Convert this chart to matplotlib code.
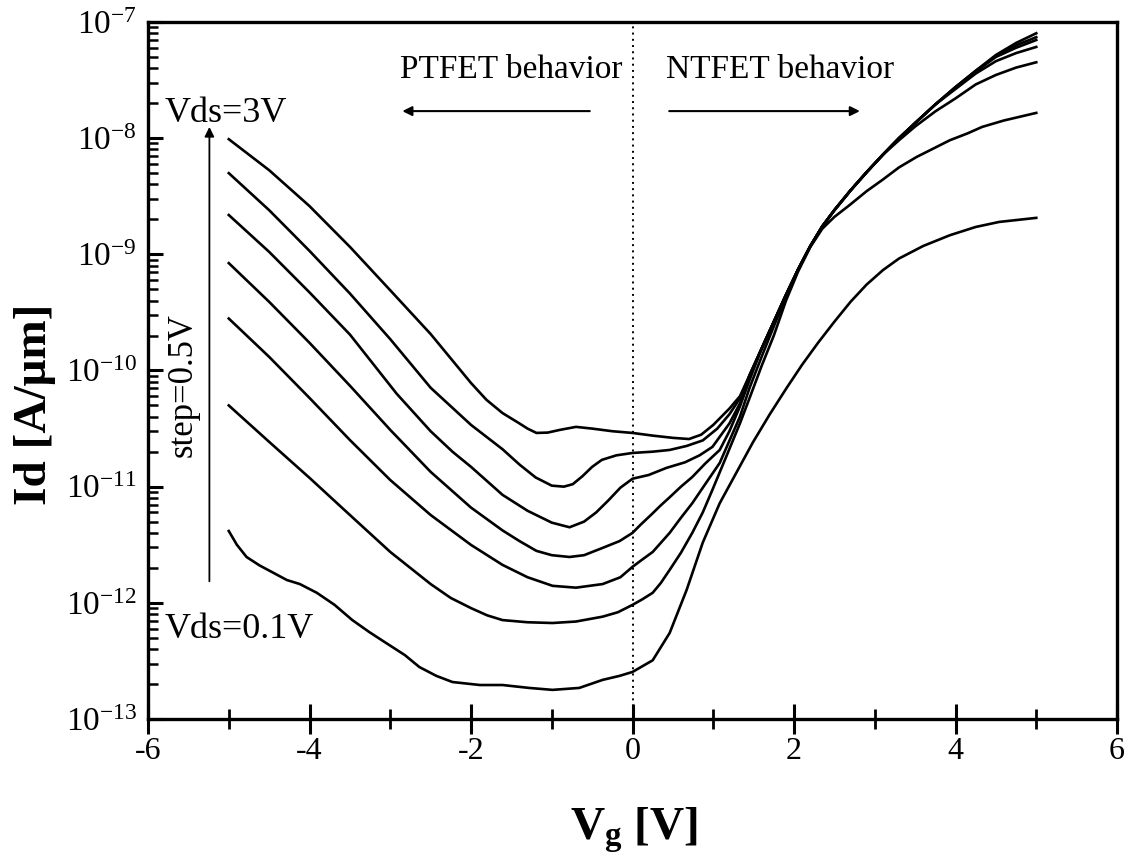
import numpy as np
import matplotlib
matplotlib.use("Agg")
import matplotlib.pyplot as plt
from matplotlib.ticker import LogLocator, FuncFormatter, MultipleLocator, NullFormatter

plt.rcParams['font.family'] = ['Liberation Serif', 'DejaVu Serif']
plt.rcParams['mathtext.fontset'] = 'custom'
plt.rcParams['mathtext.rm'] = 'Liberation Serif'
plt.rcParams['mathtext.it'] = 'Liberation Serif:italic'
plt.rcParams['mathtext.bf'] = 'Liberation Serif:bold'

# Id(Vg) curves, one per Vds (0.1 V ... 3 V)
vg_3v0 = [-5.0, -4.5, -4.0, -3.5, -3.0, -2.5, -2.0, -1.81, -1.61, -1.4, -1.3, -1.19, -1.05,
          -0.9, -0.7, -0.5, -0.25, 0.0, 0.25, 0.5, 0.7, 0.85, 1.0, 1.2, 1.33, 1.45, 1.60,
          1.75, 1.90, 2.05, 2.20, 2.35, 2.50, 2.70, 2.90, 3.10, 3.30, 3.50, 3.75, 4.00,
          4.25, 4.50, 4.75, 5.0]
id_3v0 = [9.8e-9, 5.3e-9, 2.6e-9, 1.16e-9, 4.9e-10, 2.06e-10, 7.8e-11, 5.6e-11, 4.3e-11,
          3.5e-11, 3.16e-11, 2.9e-11, 2.92e-11, 3.08e-11, 3.27e-11, 3.16e-11, 3.0e-11, 2.9e-11,
          2.75e-11, 2.63e-11, 2.57e-11, 2.8e-11, 3.4e-11, 4.7e-11, 6.0e-11, 9.1e-11, 1.55e-10,
          2.63e-10, 4.47e-10, 7.4e-10, 1.17e-9, 1.74e-9, 2.4e-9, 3.55e-9, 5.1e-9, 7.2e-9,
          1.0e-8, 1.35e-8, 1.95e-8, 2.75e-8, 3.8e-8, 5.2e-8, 6.6e-8, 8.0e-8]

vg_2v5 = [-5.0, -4.5, -4.0, -3.5, -3.0, -2.5, -2.0, -1.61, -1.4, -1.2, -1.0, -0.85, -0.74,
          -0.62, -0.5, -0.38, -0.2, 0.0, 0.25, 0.46, 0.67, 0.87, 1.05, 1.2, 1.33, 1.45, 1.60,
          1.75, 1.90, 2.05, 2.20, 2.35, 2.50, 2.70, 2.90, 3.10, 3.30, 3.50, 3.75, 4.00,
          4.25, 4.50, 4.75, 5.0]
id_2v5 = [5.0e-9, 2.4e-9, 1.07e-9, 4.6e-10, 1.86e-10, 7.1e-11, 3.4e-11, 2.1e-11, 1.55e-11,
          1.2e-11, 1.02e-11, 1.0e-11, 1.05e-11, 1.23e-11, 1.48e-11, 1.7e-11, 1.86e-11, 1.95e-11,
          2.0e-11, 2.07e-11, 2.24e-11, 2.5e-11, 3.16e-11, 4.2e-11, 5.75e-11, 9.1e-11, 1.55e-10,
          2.63e-10, 4.47e-10, 7.4e-10, 1.17e-9, 1.74e-9, 2.4e-9, 3.55e-9, 5.1e-9, 7.2e-9,
          1.0e-8, 1.35e-8, 1.95e-8, 2.75e-8, 3.8e-8, 5.1e-8, 6.3e-8, 7.4e-8]

vg_2v0 = [-5.0, -4.5, -4.0, -3.5, -2.92, -2.5, -2.23, -2.0, -1.61, -1.3, -1.0, -0.78, -0.6,
          -0.45, -0.3, -0.15, 0.0, 0.2, 0.42, 0.65, 0.83, 0.99, 1.2, 1.33, 1.45, 1.60, 1.75,
          1.90, 2.05, 2.20, 2.35, 2.50, 2.70, 2.90, 3.10, 3.30, 3.50, 3.75, 4.00, 4.25, 4.50,
          4.75, 5.0]
id_2v0 = [2.18e-9, 1.05e-9, 4.7e-10, 2.04e-10, 6.3e-11, 3.0e-11, 2.0e-11, 1.48e-11, 8.5e-12,
          6.2e-12, 4.9e-12, 4.47e-12, 5.0e-12, 6.0e-12, 7.6e-12, 9.8e-12, 1.17e-11, 1.26e-11,
          1.45e-11, 1.62e-11, 1.86e-11, 2.2e-11, 3.5e-11, 5.2e-11, 9.1e-11, 1.55e-10, 2.63e-10,
          4.47e-10, 7.4e-10, 1.17e-9, 1.74e-9, 2.4e-9, 3.55e-9, 5.1e-9, 7.2e-9, 1.0e-8,
          1.35e-8, 1.95e-8, 2.75e-8, 3.75e-8, 5.0e-8, 6.0e-8, 7.0e-8]

vg_1v5 = [-5.0, -4.5, -4.0, -3.5, -3.0, -2.5, -2.0, -1.61, -1.4, -1.19, -1.0, -0.78, -0.6,
          -0.37, -0.16, 0.0, 0.1, 0.25, 0.35, 0.46, 0.6, 0.74, 0.9, 1.08, 1.2, 1.33, 1.45,
          1.60, 1.75, 1.90, 2.05, 2.20, 2.35, 2.50, 2.70, 2.90, 3.10, 3.30, 3.50, 3.75, 4.00,
          4.25, 4.50, 4.75, 5.0]
id_1v5 = [8.4e-10, 3.9e-10, 1.73e-10, 7.4e-11, 3.08e-11, 1.34e-11, 6.6e-12, 4.2e-12, 3.4e-12,
          2.8e-12, 2.57e-12, 2.48e-12, 2.57e-12, 2.97e-12, 3.4e-12, 4.0e-12, 4.7e-12, 5.9e-12,
          6.9e-12, 8.1e-12, 1.0e-11, 1.21e-11, 1.58e-11, 2.07e-11, 3.0e-11, 4.9e-11, 8.3e-11,
          1.55e-10, 2.63e-10, 4.47e-10, 7.4e-10, 1.17e-9, 1.74e-9, 2.4e-9, 3.55e-9, 5.1e-9,
          7.2e-9, 1.0e-8, 1.35e-8, 1.95e-8, 2.65e-8, 3.6e-8, 4.6e-8, 5.4e-8, 6.1e-8]

vg_1v0 = [-5.0, -4.5, -4.0, -3.5, -3.0, -2.5, -2.0, -1.61, -1.3, -0.99, -0.7, -0.37, -0.15,
          0.0, 0.1, 0.25, 0.46, 0.6, 0.74, 0.9, 1.08, 1.33, 1.45, 1.60, 1.75, 1.90, 2.05,
          2.20, 2.35, 2.50, 2.70, 2.90, 3.10, 3.30, 3.50, 3.75, 4.00, 4.25, 4.50, 4.75, 5.0]
id_1v0 = [2.8e-10, 1.31e-10, 5.8e-11, 2.52e-11, 1.14e-11, 5.7e-12, 3.15e-12, 2.12e-12, 1.66e-12,
          1.4e-12, 1.35e-12, 1.45e-12, 1.66e-12, 2.04e-12, 2.3e-12, 2.74e-12, 4.0e-12, 5.4e-12,
          7.2e-12, 1.05e-11, 1.6e-11, 4.0e-11, 7.1e-11, 1.32e-10, 2.4e-10, 4.3e-10, 7.4e-10,
          1.17e-9, 1.74e-9, 2.4e-9, 3.55e-9, 5.1e-9, 7.2e-9, 9.6e-9, 1.26e-8, 1.7e-8, 2.2e-8,
          2.9e-8, 3.5e-8, 4.05e-8, 4.5e-8]

vg_0v5 = [-5.0, -4.5, -4.0, -3.5, -3.0, -2.5, -2.25, -2.0, -1.8, -1.61, -1.3, -0.99, -0.7,
          -0.37, -0.18, 0.0, 0.12, 0.25, 0.35, 0.46, 0.6, 0.74, 0.87, 0.99, 1.15, 1.33, 1.45,
          1.60, 1.75, 1.90, 2.05, 2.20, 2.35, 2.50, 2.69, 2.90, 3.10, 3.30, 3.52, 3.75, 3.93,
          4.15, 4.33, 4.60, 5.0]
id_0v5 = [5.0e-11, 2.43e-11, 1.19e-11, 5.7e-12, 2.74e-12, 1.45e-12, 1.1e-12, 9.0e-13, 7.8e-13,
          7.1e-13, 6.8e-13, 6.7e-13, 6.9e-13, 7.6e-13, 8.3e-13, 9.6e-13, 1.07e-12, 1.22e-12,
          1.48e-12, 1.92e-12, 2.7e-12, 4.0e-12, 6.0e-12, 9.4e-12, 1.74e-11, 3.5e-11, 5.8e-11,
          1.1e-10, 2.0e-10, 3.98e-10, 7.1e-10, 1.15e-9, 1.66e-9, 2.1e-9, 2.66e-9, 3.5e-9,
          4.4e-9, 5.6e-9, 6.9e-9, 8.3e-9, 9.6e-9, 1.1e-8, 1.25e-8, 1.42e-8, 1.65e-8]

vg_0v1 = [-5.0, -4.9, -4.78, -4.62, -4.28, -4.12, -3.91, -3.69, -3.47, -3.26, -3.05, -2.82,
          -2.64, -2.43, -2.23, -1.89, -1.61, -1.28, -0.99, -0.66, -0.37, -0.16, 0.0, 0.25,
          0.46, 0.67, 0.87, 1.08, 1.49, 1.7, 1.91, 2.1, 2.3, 2.5, 2.7, 2.9, 3.1, 3.3, 3.6,
          3.93, 4.25, 4.54, 5.0]
id_0v1 = [4.15e-12, 3.16e-12, 2.48e-12, 2.1e-12, 1.57e-12, 1.45e-12, 1.22e-12, 9.6e-13, 7.1e-13,
          5.6e-13, 4.5e-13, 3.55e-13, 2.8e-13, 2.35e-13, 2.08e-13, 1.96e-13, 1.96e-13, 1.85e-13,
          1.78e-13, 1.85e-13, 2.17e-13, 2.35e-13, 2.54e-13, 3.2e-13, 5.5e-13, 1.29e-12, 3.3e-12,
          7.2e-12, 2.4e-11, 4.2e-11, 7.1e-11, 1.12e-10, 1.74e-10, 2.63e-10, 3.9e-10, 5.5e-10,
          7.3e-10, 9.2e-10, 1.18e-9, 1.46e-9, 1.72e-9, 1.9e-9, 2.06e-9]

curves = [(vg_0v1, id_0v1), (vg_0v5, id_0v5), (vg_1v0, id_1v0), (vg_1v5, id_1v5),
          (vg_2v0, id_2v0), (vg_2v5, id_2v5), (vg_3v0, id_3v0)]

fig = plt.figure(figsize=(11.3, 8.63), dpi=100)
ax = fig.add_axes([0.131, 0.1669, 0.8575, 0.8076])

for vg, idv in curves:
    ax.plot(vg, idv, color='black', lw=1.9, solid_joinstyle='round')

ax.set_yscale('log')
ax.set_xlim(-6, 6)
ax.set_ylim(1e-13, 1e-7)

ax.axvline(0, color='black', lw=1.4, ls=(0, (1, 2.2)))

for s in ax.spines.values():
    s.set_linewidth(2.4)

ax.xaxis.set_major_locator(MultipleLocator(2))
ax.xaxis.set_minor_locator(MultipleLocator(1))
ax.xaxis.set_major_formatter(FuncFormatter(lambda v, _: '%d' % v))
ax.yaxis.set_major_locator(LogLocator(base=10, numticks=10))
ax.yaxis.set_minor_locator(LogLocator(base=10, subs=np.arange(2, 10), numticks=10))
ax.yaxis.set_minor_formatter(NullFormatter())
ax.yaxis.set_major_formatter(FuncFormatter(
    lambda v, _: r'$\mathregular{10^{%d}}$' % round(np.log10(v))))

ax.tick_params(axis='x', which='major', direction='inout', length=22, width=2.2,
               labelsize=23, pad=2, top=False)
ax.tick_params(axis='x', which='minor', direction='inout', length=14, width=2.0, top=False)
ax.tick_params(axis='y', which='major', direction='in', length=11, width=2.2,
               labelsize=24, pad=8, right=False)
ax.tick_params(axis='y', which='minor', direction='in', length=7, width=1.8, right=False)

# annotations
ax.annotate('', xy=(-5.24, 1.32e-8), xytext=(-5.24, 1.45e-12),
            arrowprops=dict(arrowstyle='-|>', color='black', lw=1.3, mutation_scale=14))
ax.text(-5.80, 1.38e-8, 'Vds=3V', fontsize=26, ha='left', va='baseline')
ax.text(-5.80, 5.0e-13, 'Vds=0.1V', fontsize=26, ha='left', va='baseline')
ax.text(-5.57, 7.5e-11, 'step=0.5V', fontsize=25, rotation=90, ha='center', va='center')

ax.text(-2.885, 3.3e-8, 'PTFET behavior', fontsize=24, ha='left', va='baseline')
ax.text(0.42, 3.3e-8, 'NTFET behavior', fontsize=24, ha='left', va='baseline')
ax.annotate('', xy=(-2.885, 1.71e-8), xytext=(-0.495, 1.71e-8),
            arrowprops=dict(arrowstyle='-|>', color='black', lw=1.5, mutation_scale=14))
ax.annotate('', xy=(2.85, 1.71e-8), xytext=(0.42, 1.71e-8),
            arrowprops=dict(arrowstyle='-|>', color='black', lw=1.5, mutation_scale=14))

fig.text(0.031, 0.532, 'Id [A/\u03bcm]', fontsize=34, fontweight='bold',
         rotation=90, ha='center', va='center')
fig.text(0.561, 0.038, r'V$_{\mathbf{g}}$ [V]', fontsize=34, fontweight='bold',
         ha='center', va='center')

fig.savefig('out.png', dpi=100)
